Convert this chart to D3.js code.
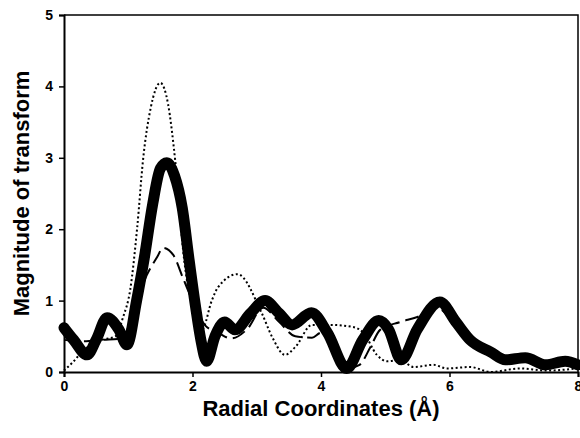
<!DOCTYPE html>
<html>
<head>
<meta charset="utf-8">
<script src="https://cdn.jsdelivr.net/npm/d3@7"></script>
<style>
  body { margin: 0; background: #fff; }
  text { font-family: "Liberation Sans", Arial, sans-serif; font-weight: bold; fill: #000; }
</style>
</head>
<body>
<div id="chart"></div>
<script>
// thick solid curve (x in Å, magnitude)
const thickX = [0, 0.15, 0.36, 0.5, 0.67, 0.85, 0.98, 1.13, 1.25, 1.38, 1.5, 1.6, 1.72, 1.84, 1.95, 2.05, 2.13, 2.22, 2.35, 2.5, 2.66, 2.9, 3.13, 3.35, 3.55, 3.85, 4.1, 4.4, 4.65, 4.9, 5.05, 5.25, 5.5, 5.85, 6.1, 6.32, 6.64, 6.87, 7.18, 7.5, 7.8, 8.0];
const thickY = [0.62, 0.45, 0.24, 0.45, 0.76, 0.6, 0.38, 1.0, 1.6, 2.35, 2.85, 2.93, 2.75, 2.3, 1.55, 0.9, 0.45, 0.15, 0.5, 0.7, 0.59, 0.82, 1.0, 0.82, 0.66, 0.83, 0.55, 0.05, 0.45, 0.72, 0.6, 0.17, 0.6, 0.98, 0.7, 0.45, 0.28, 0.17, 0.2, 0.1, 0.15, 0.1];

// dotted curve
const dotX = [0, 0.14, 0.3, 0.6, 0.8, 0.92, 1.03, 1.14, 1.23, 1.35, 1.5, 1.62, 1.73, 1.87, 2.0, 2.15, 2.3, 2.4, 2.7, 3.08, 3.24, 3.44, 3.6, 3.86, 4.14, 4.5, 4.66, 4.87, 5.03, 5.23, 5.44, 5.75, 5.96, 6.32, 6.64, 7.1, 7.5, 8.0];
const dotY = [0.02, 0.14, 0.3, 0.45, 0.5, 0.77, 1.15, 2.03, 2.97, 3.7, 4.05, 3.75, 2.97, 1.57, 0.9, 0.6, 1.0, 1.19, 1.37, 0.82, 0.49, 0.24, 0.35, 0.66, 0.66, 0.63, 0.55, 0.24, 0.15, 0.17, 0.07, 0.1, 0.05, 0.07, 0.0, 0.05, 0.02, 0.05];

// dashed curve
const dashX = [0, 0.3, 0.6, 0.9, 1.1, 1.29, 1.45, 1.54, 1.7, 1.85, 2.0, 2.2, 2.4, 2.6, 2.85, 3.1, 3.35, 3.6, 3.86, 4.0, 4.2, 4.45, 4.6, 4.77, 4.92, 5.23, 5.5, 5.8, 6.1, 6.4, 6.8, 7.2, 7.5, 7.8, 8.0];
const dashY = [0.45, 0.43, 0.45, 0.47, 0.9, 1.36, 1.61, 1.74, 1.64, 1.32, 1.0, 0.65, 0.55, 0.47, 0.6, 0.9, 0.7, 0.5, 0.48, 0.55, 0.4, 0.06, 0.1, 0.35, 0.59, 0.7, 0.77, 0.9, 0.65, 0.4, 0.18, 0.18, 0.08, 0.12, 0.08];

const xTicks = [0, 2, 4, 6, 8];
const yTicks = [0, 1, 2, 3, 4, 5];

const width = 580, height = 438;
const margin = { top: 15, right: 2, bottom: 66, left: 64 };

const svg = d3.select("#chart").append("svg")
  .attr("width", width)
  .attr("height", height);

const x = d3.scaleLinear().domain([0, 8]).range([margin.left, width - margin.right]);
const y = d3.scaleLinear().domain([0, 5]).range([height - margin.bottom, margin.top]);

// frame (top + right)
svg.append("path")
  .attr("d", `M${x(0)},${y(5)}H${x(8)}V${y(0)}`)
  .attr("fill", "none")
  .attr("stroke", "#000")
  .attr("stroke-width", 1.5);

// axes
const xAxis = svg.append("g")
  .attr("transform", `translate(0,${y(0)})`)
  .call(d3.axisBottom(x).tickValues(xTicks).tickSize(5).tickPadding(4).tickFormat(d3.format("d")));
const yAxis = svg.append("g")
  .attr("transform", `translate(${x(0)},0)`)
  .call(d3.axisLeft(y).tickValues(yTicks).tickSize(5).tickPadding(6).tickFormat(d3.format("d")));

[xAxis, yAxis].forEach(g => {
  g.select(".domain").attr("stroke-width", 2);
  g.selectAll(".tick line").attr("stroke-width", 1.5);
  g.selectAll("text").style("font-size", "14px").style("font-family", "'Liberation Sans', Arial, sans-serif").style("font-weight", "bold");
});

const line = d3.line()
  .x(d => x(d[0]))
  .y(d => y(d[1]))
  .curve(d3.curveMonotoneX);

svg.append("path")
  .datum(d3.zip(dotX, dotY))
  .attr("d", line)
  .attr("fill", "none")
  .attr("stroke", "#000")
  .attr("stroke-width", 2)
  .attr("stroke-dasharray", "2,2.5");

svg.append("path")
  .datum(d3.zip(dashX, dashY))
  .attr("d", line)
  .attr("fill", "none")
  .attr("stroke", "#000")
  .attr("stroke-width", 2)
  .attr("stroke-dasharray", "14,6");

svg.append("path")
  .datum(d3.zip(thickX, thickY))
  .attr("d", line)
  .attr("fill", "none")
  .attr("stroke", "#000")
  .attr("stroke-width", 11)
  .attr("stroke-linecap", "round")
  .attr("stroke-linejoin", "round");

// axis titles
svg.append("text")
  .attr("x", (x(0) + x(8)) / 2)
  .attr("y", 416)
  .attr("text-anchor", "middle")
  .style("font-size", "22px")
  .text("Radial Coordinates (Å)");

svg.append("text")
  .attr("transform", `translate(29,${(y(0) + y(5)) / 2}) rotate(-90)`)
  .attr("text-anchor", "middle")
  .style("font-size", "22px")
  .text("Magnitude of transform");
</script>
</body>
</html>
